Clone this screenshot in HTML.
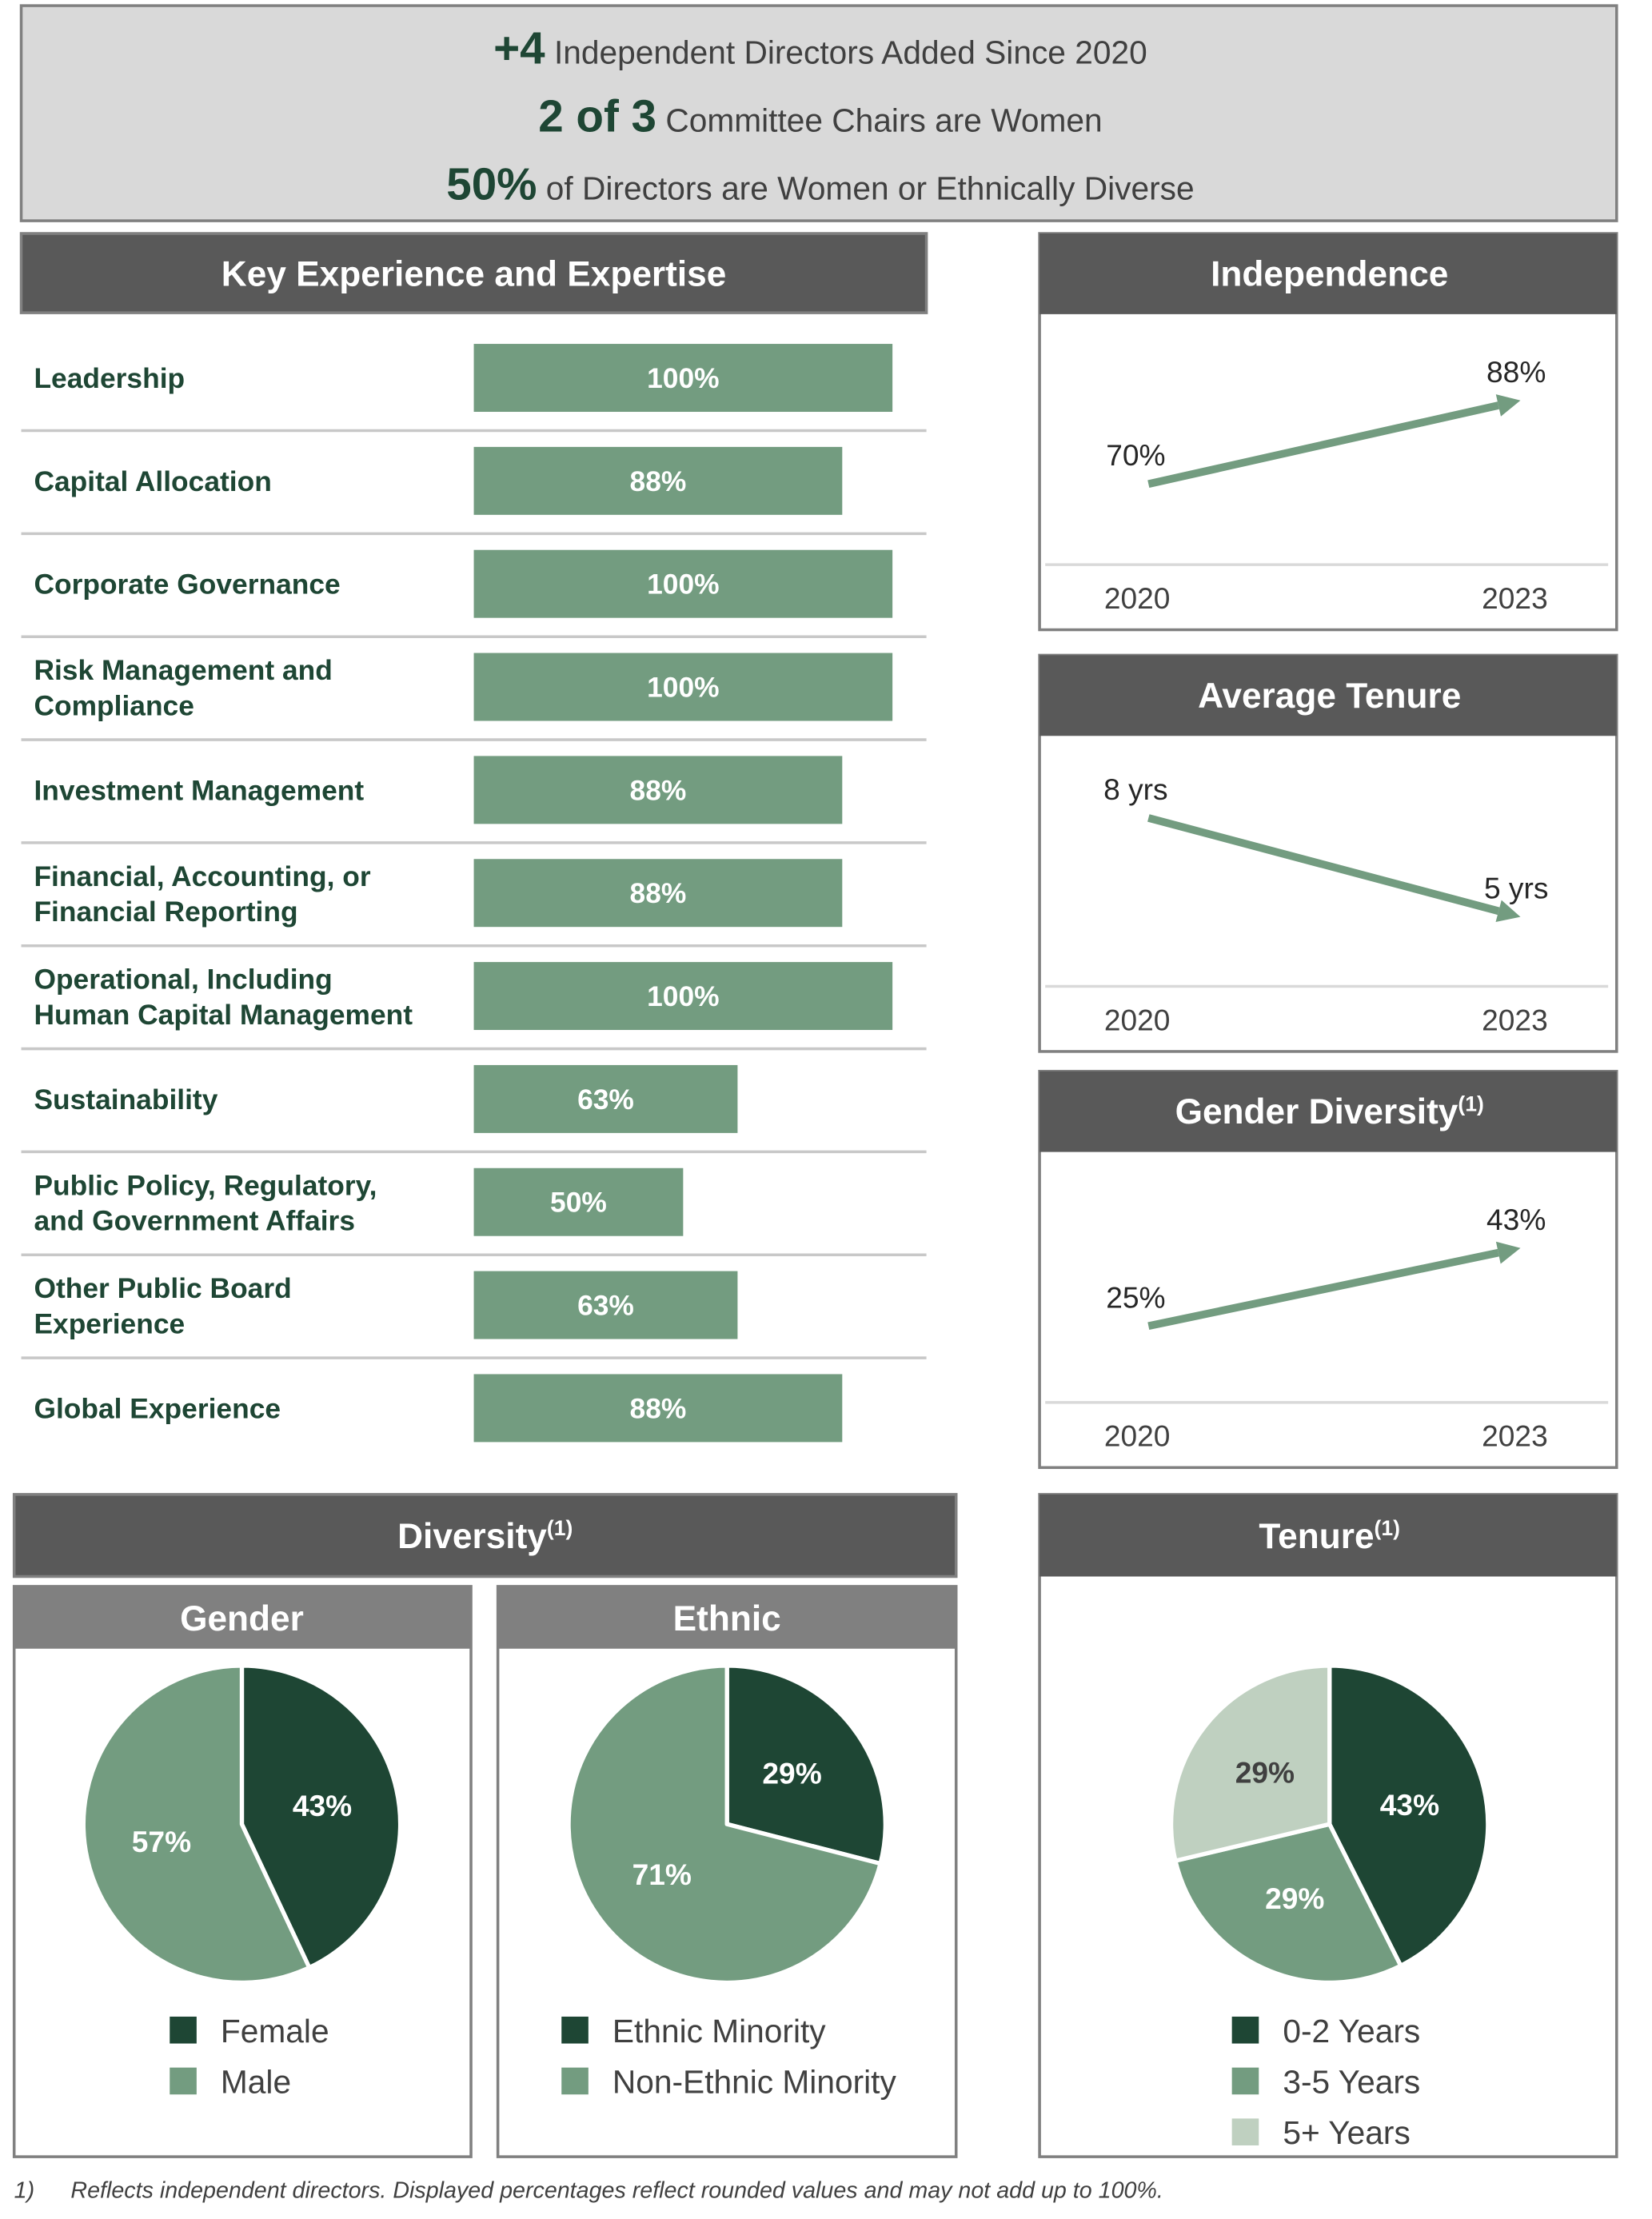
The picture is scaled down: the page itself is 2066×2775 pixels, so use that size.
<!DOCTYPE html>
<html><head><meta charset="utf-8"><style>
html,body{margin:0;padding:0;background:#fff;}
svg{display:block;}
text{font-family:"Liberation Sans",Arial,sans-serif;}
</style></head><body>
<svg id="root" width="2066" height="2775" viewBox="0 0 1168 1568" preserveAspectRatio="none" xmlns="http://www.w3.org/2000/svg">
  <rect x="15" y="4" width="1128" height="152" fill="#d9d9d9" stroke="#808080" stroke-width="2"/>
  <text x="580" y="45" text-anchor="middle"><tspan font-size="32" font-weight="bold" fill="#1e4634">+4</tspan><tspan font-size="23" fill="#404040"> Independent Directors Added Since 2020</tspan></text>
  <text x="580" y="93" text-anchor="middle"><tspan font-size="32" font-weight="bold" fill="#1e4634">2 of 3</tspan><tspan font-size="23" fill="#404040"> Committee Chairs are Women</tspan></text>
  <text x="580" y="141" text-anchor="middle"><tspan font-size="32" font-weight="bold" fill="#1e4634">50%</tspan><tspan font-size="23" fill="#404040"> of Directors are Women or Ethnically Diverse</tspan></text>

  <rect x="15" y="165" width="640" height="56" fill="#595959" stroke="#808080" stroke-width="2"/>
  <text x="335" y="202" text-anchor="middle" font-size="25" font-weight="bold" fill="#fff">Key Experience and Expertise</text>
  <g id="bars"></g>

  <g id="trends"></g>

  <rect x="10" y="1056" width="666" height="58" fill="#595959" stroke="#808080" stroke-width="2"/>
  <text x="343" y="1094" text-anchor="middle" font-size="25" font-weight="bold" fill="#fff">Diversity<tspan font-size="15" dy="-9">(1)</tspan></text>
  <rect x="10" y="1121" width="323" height="403" fill="#fff" stroke="#808080" stroke-width="2"/>
  <rect x="10" y="1121" width="323" height="44" fill="#808080"/>
  <text x="171" y="1152" text-anchor="middle" font-size="25" font-weight="bold" fill="#fff">Gender</text>
  <rect x="352" y="1121" width="324" height="403" fill="#fff" stroke="#808080" stroke-width="2"/>
  <rect x="352" y="1121" width="324" height="44" fill="#808080"/>
  <text x="514" y="1152" text-anchor="middle" font-size="25" font-weight="bold" fill="#fff">Ethnic</text>
  <rect x="735" y="1056" width="408" height="468" fill="#fff" stroke="#808080" stroke-width="2"/>
  <rect x="735" y="1056" width="408" height="58" fill="#595959"/>
  <text x="940" y="1094" text-anchor="middle" font-size="25" font-weight="bold" fill="#fff">Tenure<tspan font-size="15" dy="-9">(1)</tspan></text>
  <g id="pies"></g>

  <text x="10" y="1553" font-size="16.2" font-style="italic" fill="#404040">1)<tspan x="50">Reflects independent directors. Displayed percentages reflect rounded values and may not add up to 100%.</tspan></text>
</svg>
<script>
const NS="http://www.w3.org/2000/svg";
// ---- Key experience bar data ----
const skillLabels=[["Leadership"],["Capital Allocation"],["Corporate Governance"],["Risk Management and","Compliance"],["Investment Management"],["Financial, Accounting, or","Financial Reporting"],["Operational, Including","Human Capital Management"],["Sustainability"],["Public Policy, Regulatory,","and Government Affairs"],["Other Public Board","Experience"],["Global Experience"]];
const skillValues=[100,88,100,100,88,88,100,63,50,63,88];
// ---- Trend data ----
const trendTitles=["Independence","Average Tenure","Gender Diversity"];
const trendYears=["2020","2023"];
const independenceValues=[70,88];
const tenureValues=[8,5];
const genderTrendValues=[25,43];
const trendLabelSuffix=["%"," yrs","%"];
// ---- Pie data ----
const genderCats=["Female","Male"];
const genderShares=[43,57];
const ethnicCats=["Ethnic Minority","Non-Ethnic Minority"];
const ethnicShares=[29,71];
const tenureCats=["0-2 Years","3-5 Years","5+ Years"];
const tenureShares=[43,29,29];

function el(tag,attrs,parent){const e=document.createElementNS(NS,tag);for(const k in attrs)e.setAttribute(k,attrs[k]);parent.appendChild(e);return e;}

// Bars
const barsG=document.getElementById('bars');
const x0=335,barScale=v=>v*2.96,rowTop=232,rowH=72.8;
skillValues.forEach((v,i)=>{
  const cy=rowTop+rowH*i+35;
  const r=el('rect',{x:x0,y:cy-24,width:barScale(v),height:48,fill:'#739c80'},barsG);
  
  
  const t=el('text',{x:x0+barScale(v)/2,y:cy+7,'text-anchor':'middle','font-size':20,'font-weight':'bold',fill:'#fff'},barsG);
  t.textContent=v+'%';
  
  
  const lines=skillLabels[i];
  const lt=el('text',{x:24,'font-size':20,'font-weight':'bold',fill:'#1e4634'},barsG);
  
  
  lines.forEach((ln,j)=>{const ts=el('tspan',{x:24,y:(lines.length===1?cy+7:cy-5+j*25)},lt);ts.textContent=ln;});
  if(i<skillValues.length-1){
    const l=el('line',{x1:15,x2:655,y1:rowTop+rowH*(i+1)-0.5,y2:rowTop+rowH*(i+1)-0.5,stroke:'#c8c8c8','stroke-width':2},barsG);
    
    
  }
});

// Trends
const trendsG=document.getElementById('trends');
const trendSeries=[independenceValues,tenureValues,genderTrendValues];
const panelTops=[165,463,757];
const yScales=[v=>177-(v-70)*3.28, v=>115+(8-v)*23.3, v=>180-(v-25)*3.06];
const xYear=[812,1072];
const yearLabelX=[804,1071];
trendSeries.forEach((vals,p)=>{
  const top=panelTops[p];
  const body=el('rect',{x:735,y:top,width:408,height:280,fill:'#fff',stroke:'#808080','stroke-width':2},trendsG);
  
  
  const hd=el('rect',{x:735,y:top,width:408,height:57,fill:'#595959'},trendsG);
  
  
  const ht=el('text',{x:940,y:top+37,'text-anchor':'middle','font-size':25,'font-weight':'bold',fill:'#fff'},trendsG);
  ht.textContent=trendTitles[p];
  if(p===2){const s=el('tspan',{'font-size':15,dy:-9},ht);s.textContent='(1)';}
  
  
  const ax=el('line',{x1:739,x2:1137,y1:top+234,y2:top+234,stroke:'#d9d9d9','stroke-width':2},trendsG);
  
  
  trendYears.forEach((yr,j)=>{
    const t=el('text',{x:yearLabelX[j],y:top+265,'text-anchor':'middle','font-size':21,fill:'#404040'},trendsG);
    t.textContent=yr;
    
    
  });
  const ya=top+yScales[p](vals[0]),yb=top+yScales[p](vals[1]);
  const xa=xYear[0],xb=xYear[1]+3;
  const ang=Math.atan2(yb-ya,xb-xa),hl=16,hw=8;
  const bx=xb-hl*Math.cos(ang),by=yb-hl*Math.sin(ang);
  const ln=el('line',{x1:xa,y1:ya,x2:bx,y2:by,stroke:'#739c80','stroke-width':5.5},trendsG);
  
  
  const px=-Math.sin(ang),py=Math.cos(ang);
  const hp=el('polygon',{points:`${xb},${yb} ${bx+px*hw},${by+py*hw} ${bx-px*hw},${by-py*hw}`,fill:'#739c80'},trendsG);
  
  
  [[xa-9,ya-13,vals[0]],[xb-3,yb-13,vals[1]]].forEach(([lx,ly,v],j)=>{
    const t=el('text',{x:lx,y:ly,'text-anchor':'middle','font-size':21,fill:'#262626'},trendsG);
    t.textContent=v+trendLabelSuffix[p];
    
    
  });
});

// Pies
const piesG=document.getElementById('pies');
const colors=['#1e4634','#739c80','#bfd0c0'];
const labelColors=['#fff','#fff','#404040'];
function pie(cx,cy,r,shares,cats,legX,legY,name){
  const total=shares.reduce((a,b)=>a+b,0);
  let a0=0;
  shares.forEach((s,i)=>{
    const a1=a0+s/total*2*Math.PI;
    const p0=[cx+r*Math.sin(a0),cy-r*Math.cos(a0)],p1=[cx+r*Math.sin(a1),cy-r*Math.cos(a1)];
    const large=(a1-a0)>Math.PI?1:0;
    const path=el('path',{d:`M${cx},${cy} L${p0[0]},${p0[1]} A${r},${r} 0 ${large} 1 ${p1[0]},${p1[1]} Z`,fill:colors[i],stroke:'#fff','stroke-width':3,'stroke-linejoin':'round'},piesG);
    
    
    const am=(a0+a1)/2,lr=r*0.52;
    const t=el('text',{x:cx+lr*Math.sin(am),y:cy-lr*Math.cos(am)+7,'text-anchor':'middle','font-size':21,'font-weight':'bold',fill:labelColors[i]},piesG);
    t.textContent=s+'%';
    
    
    a0=a1;
  });
  cats.forEach((c,i)=>{
    const sq=el('rect',{x:legX,y:legY+i*36-9,width:19,height:19,fill:colors[i]},piesG);
    
    
    const t=el('text',{x:legX+36,y:legY+i*36+9,'font-size':23,fill:'#404040'},piesG);
    t.textContent=c;
    
    
  });
}
pie(171,1289,112,genderShares,genderCats,120,1434,'gender');
pie(514,1289,112,ethnicShares,ethnicCats,397,1434,'ethnic');
pie(940,1289,112,tenureShares,tenureCats,871,1434,'tenure');
</script>
</body></html>
